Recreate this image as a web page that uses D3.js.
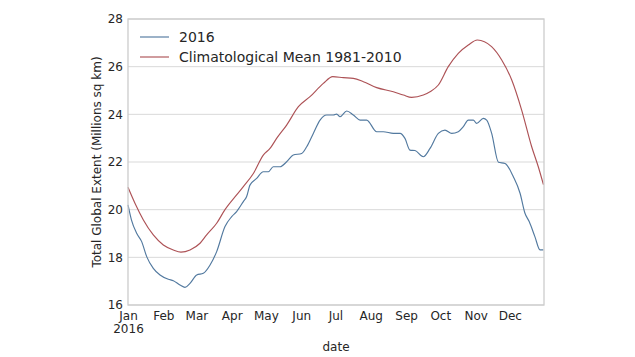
<!DOCTYPE html>
<html>
<head>
<meta charset="utf-8">
<script src="https://cdn.jsdelivr.net/npm/d3@7"></script>
<style>
  html, body { margin: 0; padding: 0; background: #fff; }
  svg { display: block; font-family: "DejaVu Sans", sans-serif; }
</style>
</head>
<body>
<svg id="chart" width="635" height="357"></svg>
<script>
// ---- data (day of year 2016, extent in millions sq km) ----
const days2016 = [0,3,7.6,12,16.4,22.2,28.1,35.4,39.8,45.6,50,54.4,60.3,66.1,72,77.8,85.1,91,95.3,101.2,104.1,107,112.9,118.7,123.1,127.5,133.4,139.2,145,152.4,156.8,162.6,168.5,174.3,180.2,183.1,186,191.9,197.7,203.6,209.4,218.2,224,232.8,238.7,243,247.4,251.8,259.1,265,272.3,278.1,284,289.8,294.2,298.6,303,305.9,311.8,314.7,319.1,325,330.8,338.1,344,348.3,352,357,361.5,364.5];
const values2016 = [20.2,19.57,19.01,18.66,18.03,17.54,17.26,17.08,17.02,16.84,16.74,16.91,17.26,17.33,17.68,18.24,19.29,19.71,19.92,20.34,20.55,21.03,21.31,21.59,21.59,21.8,21.8,22.01,22.29,22.36,22.64,23.2,23.76,23.97,23.97,24.01,23.9,24.14,23.97,23.76,23.76,23.27,23.27,23.2,23.2,22.99,22.5,22.48,22.22,22.57,23.2,23.34,23.2,23.27,23.48,23.76,23.76,23.62,23.83,23.76,23.2,21.99,21.94,21.38,20.69,19.85,19.5,18.87,18.31,18.31];
const daysMean = [0,6.1,13.5,22.2,31,39.8,46.5,54.4,63.2,69,77.8,85.1,95.3,101.2,110,118.7,124.6,130.4,139.2,149.5,159.7,171.4,179.6,188.9,197.7,206.5,218.2,232.8,241.6,248.9,259.1,265,272.3,281,289.8,298.6,306.5,319,327.9,336.7,345.4,354.2,360,364.5];
const valuesMean = [20.94,20.27,19.57,18.94,18.52,18.31,18.22,18.31,18.59,18.94,19.43,20.0,20.62,20.97,21.52,22.29,22.57,22.99,23.55,24.32,24.74,25.3,25.58,25.54,25.51,25.37,25.12,24.95,24.81,24.71,24.81,24.95,25.23,26.0,26.56,26.91,27.12,26.84,26.28,25.44,24.18,22.64,21.8,21.05];
const seriesNames = ["2016", "Climatological Mean 1981-2010"];
const yTicks = [16, 18, 20, 22, 24, 26, 28];
const monthLabels = ["Jan","Feb","Mar","Apr","May","Jun","Jul","Aug","Sep","Oct","Nov","Dec"];

// ---- layout ----
const svg = d3.select("#chart");
const pLeft = 128, pRight = 544, pTop = 19, pBottom = 305;
const start = new Date(2016, 0, 1);
const dayToDate = d => new Date(start.getTime() + d * 86400000);

const x = d3.scaleTime().domain([start, new Date(2016, 11, 31)]).range([pLeft, pRight]);
const y = d3.scaleLinear().domain([16, 28]).range([pBottom, pTop]);

// grid
svg.append("g").selectAll("line").data(yTicks).join("line")
  .attr("x1", pLeft).attr("x2", pRight)
  .attr("y1", d => y(d)).attr("y2", d => y(d))
  .attr("stroke", "#d9d9d9").attr("stroke-width", 1);

// lines
const line = d3.line().x(d => x(d[0])).y(d => y(d[1])).curve(d3.curveMonotoneX);
const s2016 = days2016.map((d, i) => [dayToDate(d), values2016[i]]);
const sMean = daysMean.map((d, i) => [dayToDate(d), valuesMean[i]]);
const colors = ["#52799f", "#ad5256"];

svg.append("path").datum(s2016).attr("d", line)
  .attr("fill", "none").attr("stroke", colors[0]).attr("stroke-width", 1.15);
svg.append("path").datum(sMean).attr("d", line)
  .attr("fill", "none").attr("stroke", colors[1]).attr("stroke-width", 1.15);

// frame
svg.append("rect").attr("x", pLeft).attr("y", pTop)
  .attr("width", pRight - pLeft).attr("height", pBottom - pTop)
  .attr("fill", "none").attr("stroke", "#cccccc").attr("stroke-width", 1.3);

// y axis
const yAxis = d3.axisLeft(y).tickValues(yTicks).tickSize(0).tickPadding(5);
const gy = svg.append("g").attr("transform", `translate(${pLeft},0)`).call(yAxis);
gy.select(".domain").remove();
gy.selectAll("text").attr("font-size", 12).attr("fill", "#262626")
  .attr("font-family", "DejaVu Sans, sans-serif");

// x axis
const xAxis = d3.axisBottom(x).ticks(d3.timeMonth.every(1)).tickSize(0).tickPadding(6)
  .tickFormat(d => monthLabels[d.getMonth()]);
const gx = svg.append("g").attr("transform", `translate(0,${pBottom})`).call(xAxis);
gx.select(".domain").remove();
gx.selectAll("text").attr("font-size", 12).attr("fill", "#262626")
  .attr("font-family", "DejaVu Sans, sans-serif");
gx.selectAll(".tick").filter(d => d.getMonth() === 0).select("text")
  .append("tspan").attr("x", 0).attr("dy", "1.15em").text("2016");

// axis labels
svg.append("text").attr("x", (pLeft + pRight) / 2).attr("y", 351)
  .attr("text-anchor", "middle").attr("font-size", 12).attr("fill", "#262626")
  .text("date");
svg.append("text")
  .attr("transform", `translate(101,${(pTop + pBottom) / 2}) rotate(-90)`)
  .attr("text-anchor", "middle").attr("font-size", 12).attr("fill", "#262626")
  .text("Total Global Extent (Millions sq km)");

// legend
const lg = svg.append("g");
seriesNames.forEach((name, i) => {
  const yy = 37 + i * 20;
  lg.append("line").attr("x1", 140).attr("x2", 169).attr("y1", yy).attr("y2", yy)
    .attr("stroke", colors[i]).attr("stroke-width", 1.15);
  lg.append("text").attr("x", 179).attr("y", yy).attr("dy", "0.35em")
    .attr("font-size", 14).attr("fill", "#262626").text(name);
});
</script>
</body>
</html>
